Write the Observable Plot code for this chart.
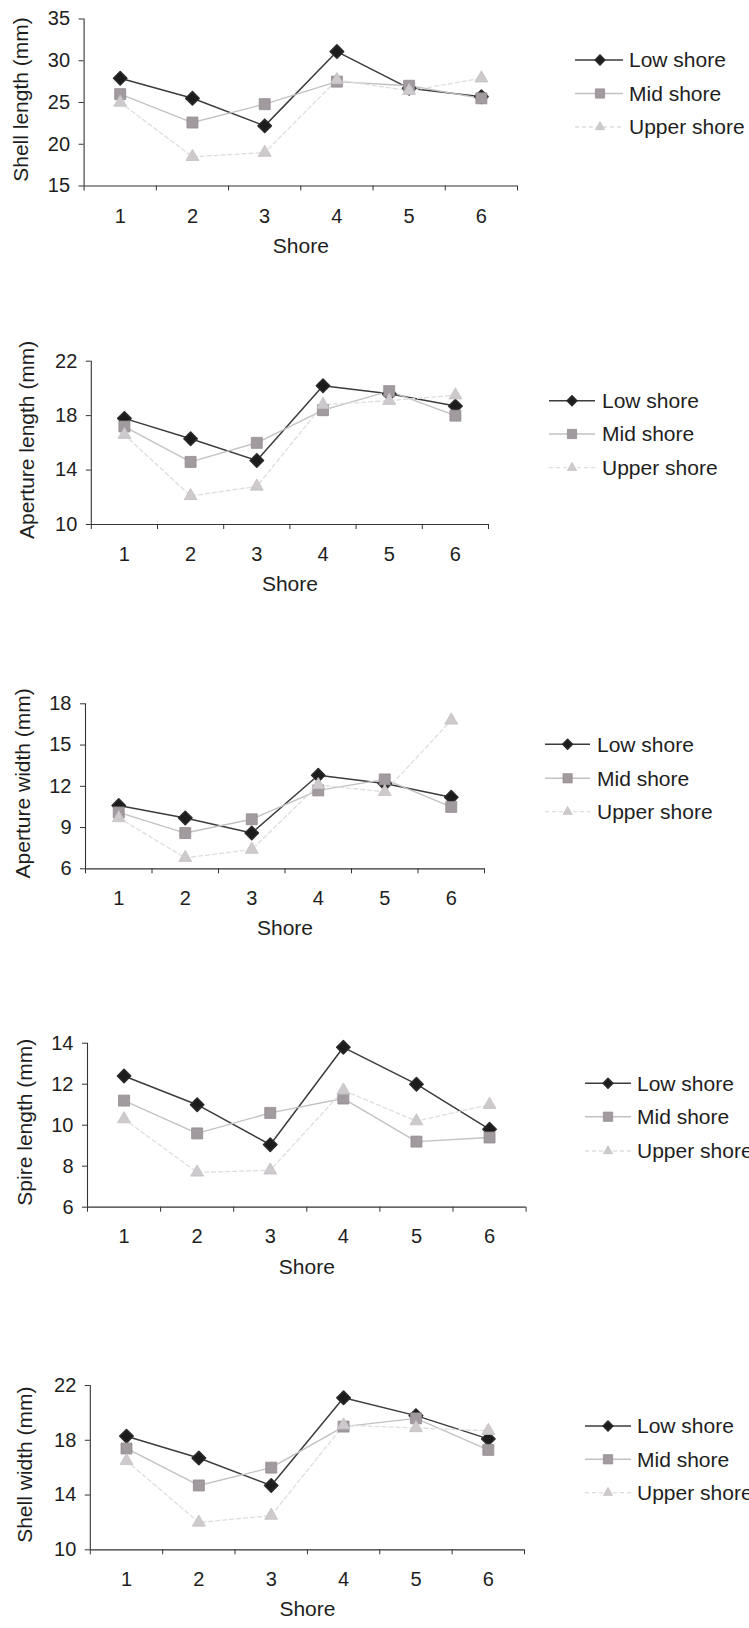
<!DOCTYPE html>
<html>
<head>
<meta charset="utf-8">
<script src="https://cdn.jsdelivr.net/npm/d3@7"></script>
<script src="https://cdn.jsdelivr.net/npm/@observablehq/plot@0.6"></script>
<style>
  body { margin: 0; background: #fff; }
  #page { position: relative; width: 749px; height: 1628px; background: #fff; overflow: hidden;
          font-family: "Liberation Sans", Arial, sans-serif; }
  #page svg { position: absolute; left: 0; }
</style>
</head>
<body>
<div id="page"></div>
<script>
// Shore sites along the x axis, and the category boundaries that carry the tick marks
const shores = [1, 2, 3, 4, 5, 6];
const shoreBounds = [0.5, 1.5, 2.5, 3.5, 4.5, 5.5, 6.5];
const seriesNames = ["Low shore", "Mid shore", "Upper shore"];

// Shell length (mm)
const shellLengthLow   = [27.9, 25.5, 22.2, 31.1, 26.7, 25.7];
const shellLengthMid   = [26.0, 22.6, 24.8, 27.5, 27.0, 25.5];
const shellLengthUpper = [25.0, 18.5, 19.0, 27.7, 26.4, 27.9];
const shellLengthTicks = [15, 20, 25, 30, 35];

// Aperture length (mm)
const apertureLengthLow   = [17.8, 16.3, 14.7, 20.2, 19.6, 18.7];
const apertureLengthMid   = [17.2, 14.6, 16.0, 18.4, 19.8, 18.0];
const apertureLengthUpper = [16.6, 12.1, 12.8, 18.8, 19.1, 19.5];
const apertureLengthTicks = [10, 14, 18, 22];

// Aperture width (mm)
const apertureWidthLow   = [10.6, 9.7, 8.6, 12.8, 12.2, 11.2];
const apertureWidthMid   = [10.1, 8.6, 9.6, 11.7, 12.5, 10.5];
const apertureWidthUpper = [9.7, 6.8, 7.4, 12.1, 11.6, 16.8];
const apertureWidthTicks = [6, 9, 12, 15, 18];

// Spire length (mm)
const spireLengthLow   = [12.4, 11.0, 9.05, 13.8, 12.0, 9.8];
const spireLengthMid   = [11.2, 9.6, 10.6, 11.3, 9.2, 9.4];
const spireLengthUpper = [10.3, 7.7, 7.8, 11.7, 10.2, 11.0];
const spireLengthTicks = [6, 8, 10, 12, 14];

// Shell width (mm)
const shellWidthLow   = [18.3, 16.7, 14.7, 21.1, 19.8, 18.1];
const shellWidthMid   = [17.4, 14.7, 16.0, 19.0, 19.6, 17.3];
const shellWidthUpper = [16.5, 12.0, 12.5, 19.1, 18.9, 18.7];
const shellWidthTicks = [10, 14, 18, 22];

// Drawing style of each series
const seriesStyle = {
  "Low shore":   { symbol: "diamond2", r: 6.0, legendR: 4.4, fill: "#1c1c1c", stroke: "#2a2a2a", sw: 1.6,
                   line: "#3c3c3c", lineWidth: 1.5, dash: null },
  "Mid shore":   { symbol: "square",   r: 6.2, legendR: 5.2, fill: "#a19a9e", stroke: "#948c91", sw: 0.8,
                   line: "#c2c2c2", lineWidth: 1.4, dash: null },
  "Upper shore": { symbol: "triangle", r: 4.8, legendR: 3.4, fill: "#cdc9cc", stroke: "#c4c0c3", sw: 0.8,
                   line: "#dedede", lineWidth: 1.3, dash: "4,3" }
};

// One panel per measurement, stacked down the page
const panels = [
  { title: "Shell length (mm)",    values: [shellLengthLow, shellLengthMid, shellLengthUpper],          ticks: shellLengthTicks,
    top: 0,    height: 270, mt: 18.5, mb: 84.5, ml: 83.6, mr: 232,   titleX: 21, tickPad: 23,
    legend: { x1: 575, x2: 623, mx: 600, tx: 629, ys: [60, 93.5, 127] } },
  { title: "Aperture length (mm)", values: [apertureLengthLow, apertureLengthMid, apertureLengthUpper], ticks: apertureLengthTicks,
    top: 330,  height: 280, mt: 30.7, mb: 86,   ml: 90.8, mr: 261,   titleX: 27, tickPad: 22,
    legend: { x1: 549, x2: 595, mx: 572, tx: 602, ys: [70.7, 104, 137.7] } },
  { title: "Aperture width (mm)",  values: [apertureWidthLow, apertureWidthMid, apertureWidthUpper],    ticks: apertureWidthTicks,
    top: 660,  height: 290, mt: 43.3, mb: 81.7, ml: 85,   mr: 265,   titleX: 23, tickPad: 21.5,
    legend: { x1: 545, x2: 590, mx: 567.6, tx: 597, ys: [84.3, 118.3, 151.7] } },
  { title: "Spire length (mm)",    values: [spireLengthLow, spireLengthMid, spireLengthUpper],          ticks: spireLengthTicks,
    top: 990,  height: 300, mt: 52.7, mb: 83.3, ml: 87,   mr: 223.4, titleX: 25, tickPad: 22,
    legend: { x1: 585, x2: 631, mx: 608, tx: 637, ys: [93.3, 126.7, 161] } },
  { title: "Shell width (mm)",     values: [shellWidthLow, shellWidthMid, shellWidthUpper],             ticks: shellWidthTicks,
    top: 1300, height: 328, mt: 85,   mb: 78.7, ml: 89.8, mr: 225,   titleX: 25, tickPad: 21.5,
    legend: { x1: 585, x2: 631, mx: 608, tx: 637, ys: [126, 159.3, 192.7] } }
];

const axisColor = "#333";
const textColor = "#1e1e1e";
const fontFamily = '"Liberation Sans", Arial, sans-serif';
const symbolTypes = { diamond2: d3.symbolDiamond2, square: d3.symbolSquare, triangle: d3.symbolTriangle };

const page = document.getElementById("page");

for (const p of panels) {
  const rows = seriesNames.map((name, k) =>
    shores.map((s, i) => ({ shore: s, value: p.values[k][i], series: name })));

  const lineMarks = rows.map((r, k) => {
    const st = seriesStyle[seriesNames[k]];
    return Plot.line(r, { x: "shore", y: "value", stroke: st.line, strokeWidth: st.lineWidth,
                          strokeDasharray: st.dash });
  });
  const dotMarks = rows.map((r, k) => {
    const st = seriesStyle[seriesNames[k]];
    return Plot.dot(r, { x: "shore", y: "value", symbol: st.symbol, r: st.r,
                         fill: st.fill, stroke: st.stroke, strokeWidth: st.sw, strokeLinejoin: "round" });
  });

  const svg = Plot.plot({
    width: 749,
    height: p.height,
    marginTop: p.mt, marginBottom: p.mb, marginLeft: p.ml, marginRight: p.mr,
    style: { fontFamily, fontSize: "20px", color: textColor, background: "transparent" },
    x: { domain: [0.5, 6.5], axis: null, label: null },
    y: { domain: [p.ticks[0], p.ticks[p.ticks.length - 1]], axis: null, label: null },
    marks: [
      // axis lines
      Plot.ruleX([0.5], { stroke: axisColor, strokeWidth: 1.1 }),
      Plot.ruleY([p.ticks[0]], { stroke: axisColor, strokeWidth: 1.2 }),
      // y ticks and labels
      Plot.axisY({ ticks: p.ticks, tickSize: 5, tickPadding: 9, stroke: axisColor, fill: textColor,
                   fontSize: 20, label: null }),
      // x tick marks between categories
      Plot.axisX({ ticks: shoreBounds, tickSize: 5, tickFormat: () => "", stroke: axisColor, label: null }),
      // x category labels
      Plot.axisX({ ticks: shores, tickSize: 0, tickPadding: p.tickPad, fill: textColor, fontSize: 20,
                   tickFormat: d => String(d), label: null }),
      // axis titles
      Plot.text(["Shore"], { text: d => d, frameAnchor: "bottom", dy: 66.5, fontSize: 21, fill: textColor }),
      Plot.text([p.title], { text: d => d, frameAnchor: "left", textAnchor: "middle", dx: p.titleX - p.ml,
                             dy: -3, rotate: -90, fontSize: 21, fill: textColor }),
      ...lineMarks,
      ...dotMarks
    ]
  });
  svg.style.top = p.top + "px";

  // legend: line sample, marker and series name
  const g = d3.select(svg).append("g")
    .attr("font-family", fontFamily).attr("font-size", 21).attr("text-anchor", "start");
  seriesNames.forEach((name, k) => {
    const st = seriesStyle[name];
    const y = p.legend.ys[k];
    g.append("line")
      .attr("x1", p.legend.x1).attr("x2", p.legend.x2).attr("y1", y).attr("y2", y)
      .attr("stroke", st.line).attr("stroke-width", st.lineWidth)
      .attr("stroke-dasharray", st.dash);
    g.append("path")
      .attr("transform", `translate(${p.legend.mx},${y})`)
      .attr("d", d3.symbol(symbolTypes[st.symbol], st.legendR * st.legendR * Math.PI)())
      .attr("fill", st.fill).attr("stroke", st.stroke).attr("stroke-width", st.sw)
      .attr("stroke-linejoin", "round");
    g.append("text")
      .attr("x", p.legend.tx).attr("y", y).attr("dy", "0.35em")
      .attr("fill", textColor).text(name);
  });

  page.appendChild(svg);
}
</script>
</body>
</html>
